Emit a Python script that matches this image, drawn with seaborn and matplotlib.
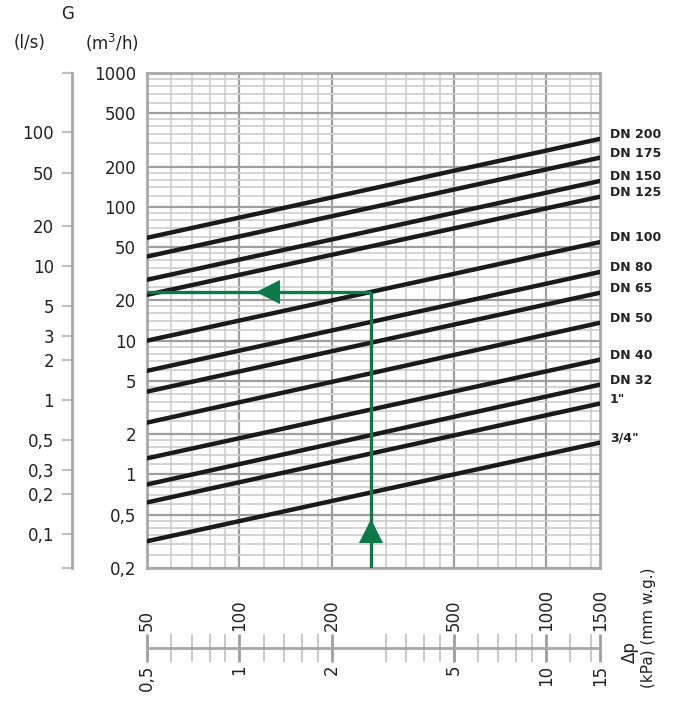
import matplotlib
matplotlib.use("Agg")
from matplotlib import pyplot as plt
import pandas as pd
import seaborn as sns

# data: flow (m3/h) at both ends of each DN line (dp = 0.5 and 15 kPa)
dn_names = ["DN 200", "DN 175", "DN 150", "DN 125", "DN 100", "DN 80", "DN 65",
            "DN 50", "DN 40", "DN 32", '1"', '3/4"']
q_at_min = [58.7, 42.5, 28.5, 22.0, 10.0, 5.95, 4.16, 2.44, 1.32, 0.842, 0.618, 0.317]
q_at_max = [322, 233, 156, 119, 54.5, 32.6, 22.8, 13.6, 7.21, 4.69, 3.39, 1.73]
dp_ends = [0.5, 15]

# example reading (green)
green_dp = 2.69
green_q = 23.2
arrow_left_dp = 1.24
arrow_up_q = 0.38

# axes ticks
q_ticks = [0.2, 0.5, 1, 2, 5, 10, 20, 50, 100, 200, 500, 1000]
q_labels = ["0,2", "0,5", "1", "2", "5", "10", "20", "50", "100", "200", "500", "1000"]
ls_ticks = [0.1, 0.2, 0.3, 0.5, 1, 2, 3, 5, 10, 20, 50, 100]
ls_labels = ["0,1", "0,2", "0,3", "0,5", "1", "2", "3", "5", "10", "20", "50", "100"]
kpa_ticks = [0.5, 1, 2, 5, 10, 15]
kpa_labels = ["0,5", "1", "2", "5", "10", "15"]
mm_ticks = [50, 100, 200, 500, 1000, 1500]
mm_labels = ["50", "100", "200", "500", "1000", "1500"]
kpa_minor = [0.6, 0.7, 0.8, 0.9, 1.2, 1.4, 1.6, 1.8, 3, 3.5, 4, 4.5, 6, 7, 8, 9, 12, 14]
q_minor_base = [1.2, 1.4, 1.6, 1.8, 2.5, 3, 3.5, 4, 4.5, 6, 7, 8, 9]

rows = []
for name, a, b in zip(dn_names, q_at_min, q_at_max):
    rows.append({"dn": name, "dp": dp_ends[0], "q": a})
    rows.append({"dn": name, "dp": dp_ends[1], "q": b})
df = pd.DataFrame(rows)

sns.set_style("white")
plt.rcParams['font.family'] = ['DejaVu Sans']

grey = "#a8a8a8"
txt = "#222222"
green = "#0b7a48"
nofmt = matplotlib.ticker.NullFormatter()

fig = plt.figure(figsize=(6.78, 7.02), dpi=100)
L, W = 147/678, 453/678
B, H = 1-568/702, 495/702
ax = fig.add_axes([L, B, W, H])
ax.set_xscale("log")
ax.set_yscale("log")
ax.set_xlim(0.5, 15)
ax.set_ylim(0.2, 1000)

# grid
qminor = [m*10**e for e in range(-1, 3) for m in q_minor_base if 0.2 < m*10**e < 1000]
ax.set_xticks(kpa_ticks[1:-1])
ax.set_xticks(kpa_minor, minor=True)
ax.set_yticks(q_ticks)
ax.set_yticklabels(q_labels)
ax.set_yticks(qminor, minor=True)
ax.xaxis.set_minor_formatter(nofmt)
ax.yaxis.set_minor_formatter(nofmt)
ax.grid(which="minor", color="#cdcdcd", lw=1.2)
ax.grid(which="major", color="#9e9e9e", lw=1.6)
ax.tick_params(axis="x", which="both", length=0, labelbottom=False)
ax.tick_params(axis="y", which="both", length=0, pad=8, labelsize=12, labelcolor=txt)
for s in ax.spines.values():
    s.set_color(grey)
    s.set_linewidth(2)

sns.lineplot(data=df, x="dp", y="q", units="dn", estimator=None, color="#1a1a1a",
             lw=3.2, ax=ax, legend=False, zorder=3)
ax.set_xlabel("")
ax.set_ylabel("")

for name, b in zip(dn_names, q_at_max):
    ax.annotate(name, (dp_ends[1], b), xytext=(7, 3), textcoords="offset points",
                ha="left", va="center", fontsize=9, fontweight="bold", color=txt,
                annotation_clip=False)

# green example
ax.plot([green_dp, green_dp], [0.2, green_q], color=green, lw=2.4, zorder=4, solid_capstyle="butt")
ax.plot([0.5, green_dp], [green_q, green_q], color=green, lw=2.4, zorder=4, solid_capstyle="butt")
ax.plot([arrow_left_dp], [green_q], marker="<", ms=17, color=green, mew=0, zorder=5)
ax.plot([green_dp], [arrow_up_q], marker="^", ms=17, color=green, mew=0, zorder=5)

# l/s axis on the far left
axl = ax.twinx()
axl.set_yscale("log")
lo, hi = 0.2/3.6, 1000/3.6
axl.set_ylim(lo, hi)
axl.yaxis.set_ticks_position("left")
axl.spines["left"].set_position(("axes", -75/453))
for k in ["right", "top", "bottom"]:
    axl.spines[k].set_visible(False)
axl.spines["left"].set_color(grey)
axl.spines["left"].set_linewidth(2)
axl.set_yticks([lo] + ls_ticks + [hi])
axl.set_yticklabels([""] + ls_labels + [""])
axl.yaxis.set_minor_locator(matplotlib.ticker.NullLocator())
axl.tick_params(axis="y", left=True, length=7, width=1.6, color="#c0c0c0", pad=6,
                labelsize=12, labelcolor=txt)

# pressure drop axis below
axb = fig.add_axes([L, 1-648/702, W, 0.0005])
axb.set_xscale("log")
axb.set_xlim(0.5, 15)
axb.set_yticks([])
for k in ["left", "right", "top"]:
    axb.spines[k].set_visible(False)
axb.spines["bottom"].set_color(grey)
axb.spines["bottom"].set_linewidth(2)
axb.set_xticks(kpa_ticks)
axb.set_xticklabels(kpa_labels, rotation=90)
axb.set_xticks(kpa_minor, minor=True)
axb.xaxis.set_minor_formatter(nofmt)
axb.tick_params(axis="x", which="major", bottom=True, direction="inout", length=20, width=2,
                color="#9e9e9e", pad=2, labelsize=12, labelcolor=txt)
axb.tick_params(axis="x", which="minor", bottom=True, direction="inout", length=20, width=1.3,
                color="#c4c4c4")
axb.patch.set_visible(False)

sec = axb.secondary_xaxis("top", functions=(lambda x: x*100, lambda x: x/100))
sec.set_xticks(mm_ticks)
sec.set_xticklabels(mm_labels, rotation=90)
sec.xaxis.set_minor_locator(matplotlib.ticker.NullLocator())
sec.tick_params(axis="x", length=0, pad=12, labelsize=12, labelcolor=txt)
sec.spines["top"].set_visible(False)

# header and axis titles
fig.text(68/678, 1-14/702, "G", ha="center", va="center", fontsize=12, color=txt)
fig.text(30/678, 1-43/702, "(l/s)", ha="center", va="center", fontsize=12, color=txt)
fig.text(112/678, 1-43/702, "(m$^3$/h)", ha="center", va="center", fontsize=12, color=txt)
fig.text(630/678, 1-652/702, "Δp", rotation=90, ha="center", va="center", fontsize=12, color=txt)
fig.text(648/678, 1-688/702, "(kPa) (mm w.g.)", rotation=90, ha="center", va="bottom",
         fontsize=11, color=txt)

plt.savefig("out.png", dpi=100)
